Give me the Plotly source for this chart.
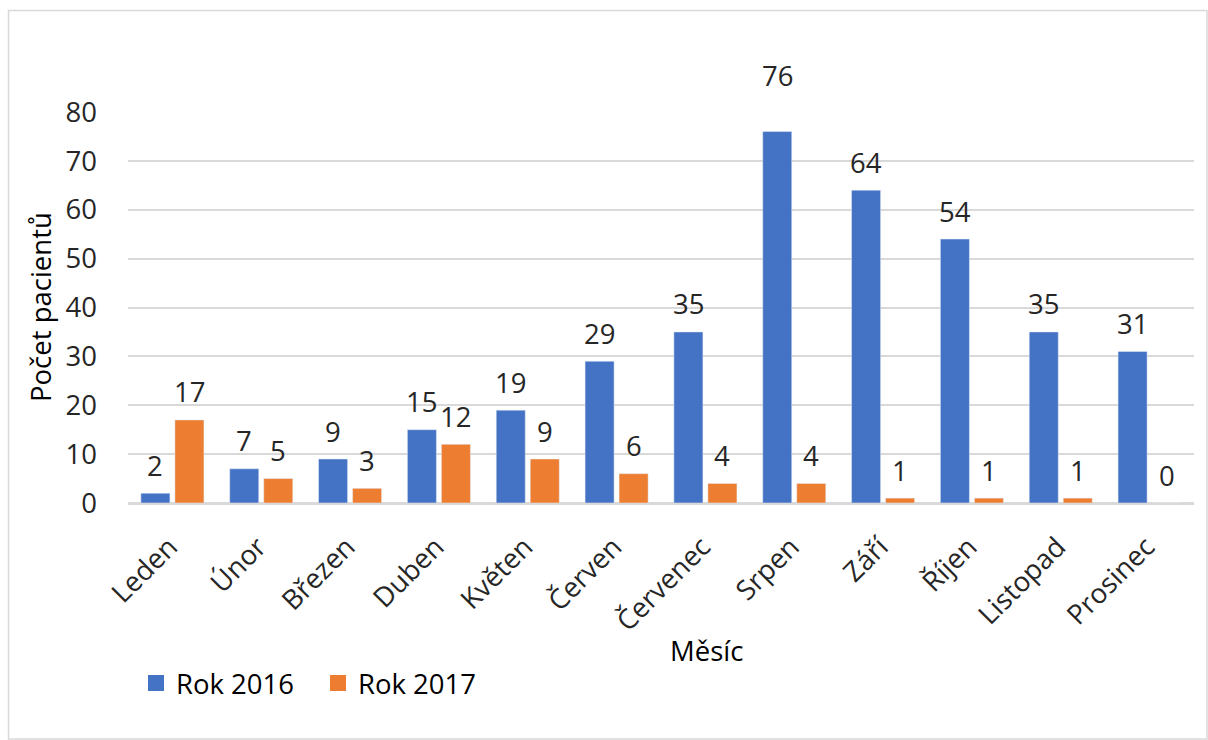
import plotly.graph_objects as go

months = ["Leden", "Únor", "Březen", "Duben", "Květen", "Červen", "Červenec",
          "Srpen", "Září", "Říjen", "Listopad", "Prosinec"]
rok2016 = [2, 7, 9, 15, 19, 29, 35, 76, 64, 54, 35, 31]
rok2017 = [17, 5, 3, 12, 9, 6, 4, 4, 1, 1, 1, 0]
series_names = ["Rok 2016", "Rok 2017"]
y_ticks = [0, 10, 20, 30, 40, 50, 60, 70, 80]

BLUE = "#4472C4"
ORANGE = "#ED7D31"
FONT = "Open Sans"
TXT = "#262626"
GRID = "#D9D9D9"
FS = 27.5

W, H = 1208, 740
L, R, T, B = 128, 14, 112, 237
pw, ph = W - L - R, H - T - B

def px(x):
    return (x - L) / pw

def py(y):
    return (H - B - y) / ph

fig = go.Figure()
fig.add_trace(go.Bar(x=months, y=rok2016, name=series_names[0], marker_color=BLUE,
                     showlegend=False))
fig.add_trace(go.Bar(x=months, y=rok2017, name=series_names[1], marker_color=ORANGE,
                     showlegend=False))
# legend entries
for nm, col in zip(series_names, [BLUE, ORANGE]):
    fig.add_trace(go.Scatter(x=[None], y=[None], mode="markers", name=nm,
                             marker=dict(symbol="square", size=19, color=col)))

annotations = []
for vals, shift in [(rok2016, -17), (rok2017, 17)]:
    vmax = max(vals)
    for m, v in zip(months, vals):
        ys = 28 + (28 if (v == vmax and v > 50) else 0)
        annotations.append(dict(x=m, y=v, xref="x", yref="y", text=str(v), showarrow=False,
                                xshift=shift, yshift=ys, yanchor="middle",
                                font=dict(family=FONT, size=FS, color=TXT)))

annotations.append(dict(x=px(706), y=py(650), xref="paper", yref="paper", text="Měsíc",
                        showarrow=False, xanchor="center", yanchor="middle",
                        font=dict(family=FONT, size=FS, color="#000000")))
annotations.append(dict(x=px(40), y=py(307), xref="paper", yref="paper", text="Počet pacientů",
                        showarrow=False, textangle=-90, xanchor="center", yanchor="middle",
                        font=dict(family=FONT, size=FS, color="#000000")))

fig.update_layout(
    width=W, height=H,
    margin=dict(l=L, r=R, t=T, b=B),
    paper_bgcolor="white", plot_bgcolor="white",
    barmode="group", bargap=0.234, bargroupgap=0.147,
    font=dict(family=FONT, size=FS, color=TXT),
    annotations=annotations,
    legend=dict(orientation="h", x=px(136), y=py(683), xanchor="left", yanchor="middle",
                entrywidth=137, entrywidthmode="pixels",
                font=dict(family=FONT, size=FS, color="#000000"),
                bgcolor="rgba(0,0,0,0)"),
    shapes=[dict(type="rect", xref="paper", yref="paper",
                 x0=px(8.5), x1=px(1207), y0=py(739), y1=py(10.5),
                 line=dict(color=GRID, width=1.5), fillcolor="rgba(0,0,0,0)", layer="below")],
)
fig.update_xaxes(tickangle=-45, showgrid=False, showline=True, linecolor=GRID, linewidth=1.5,
                 tickfont=dict(family=FONT, size=FS, color=TXT), ticks="",
                 ticklabelstandoff=15, ticklabelshift=-3)
fig.update_yaxes(range=[0, 80], tickvals=y_ticks, showgrid=True, gridcolor=GRID, gridwidth=1.5,
                 zeroline=True, zerolinecolor=GRID, zerolinewidth=1.5, showline=False,
                 ticklabelstandoff=30, tickfont=dict(family=FONT, size=FS, color=TXT))

fig.write_html("out.html")
